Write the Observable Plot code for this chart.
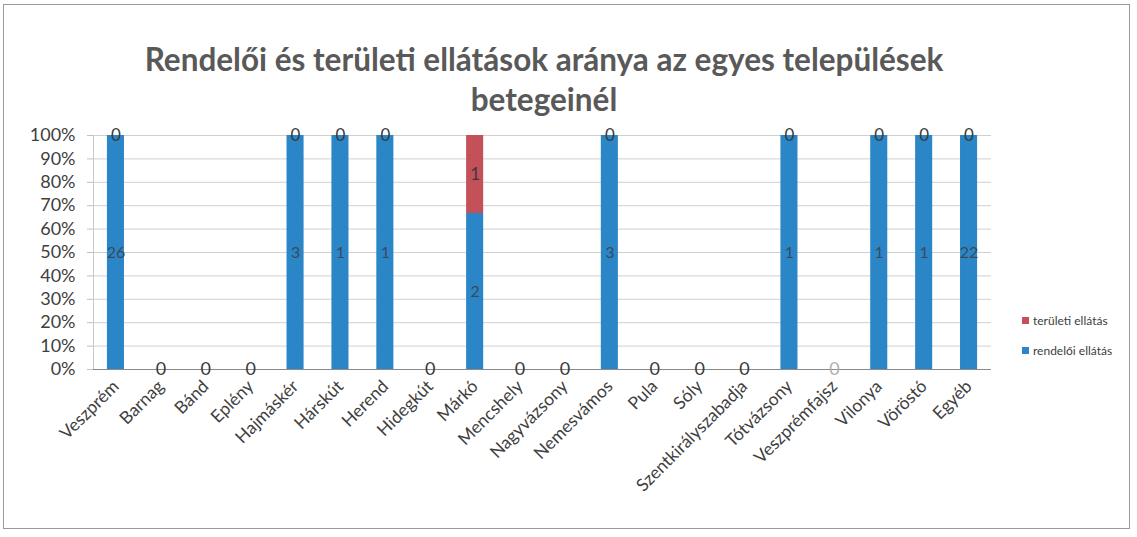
<!DOCTYPE html>
<html>
<head>
<meta charset="utf-8">
<script src="https://cdn.jsdelivr.net/npm/d3@7"></script>
<script src="https://cdn.jsdelivr.net/npm/@observablehq/plot@0.6"></script>
<style>
  body { margin: 0; background: #fff; font-family: Lato, "Open Sans", sans-serif; }
  #wrap { position: relative; width: 1127px; height: 525px; margin: 4px 0 0 3px; border: 1px solid #9a9a9a; box-sizing: border-box; overflow: hidden; }
  #title { position: absolute; left: 0; top: 34px; width: 1080px; text-align: center; font-weight: bold; font-size: 31.5px; line-height: 40px; color: #595959; }
  #chart { position: absolute; left: -3px; top: 114px; width: 1137px; }
  #chart svg { max-width: none; }
  #legend { position: absolute; left: 1018px; top: 300px; font-size: 12px; color: #404040; }
  #legend div { display: flex; align-items: center; height: 30px; }
  #legend span.sw { display: inline-block; width: 7px; height: 7px; margin-right: 4px; }
</style>
</head>
<body>
<div id="wrap">
  <div id="title">Rendelői és területi ellátások aránya az egyes települések<br>betegeinél</div>
  <div id="chart"></div>
  <div id="legend"></div>
</div>
<script>
const telepulesek = ["Veszprém","Barnag","Bánd","Eplény","Hajmáskér","Hárskút","Herend","Hidegkút","Márkó","Mencshely","Nagyvázsony","Nemesvámos","Pula","Sóly","Szentkirályszabadja","Tótvázsony","Veszprémfajsz","Vilonya","Vöröstó","Egyéb"];
const rendeloi = [26,0,0,0,3,1,1,0,2,0,0,3,0,0,0,1,0,1,1,22];
const teruleti = [0,0,0,0,0,0,0,0,1,0,0,0,0,0,0,0,0,0,0,0];
const sorozatok = ["területi ellátás","rendelői ellátás"];
const szinek = ["#c4505a","#2b86c8"];
const yTicks = [0,0.1,0.2,0.3,0.4,0.5,0.6,0.7,0.8,0.9,1];

const rows = telepulesek.map((name, i) => {
  const r = rendeloi[i], t = teruleti[i], tot = r + t;
  const fr = tot > 0 ? r / tot : 0;
  return { name, r, t, tot, fr };
});
const nonzero = rows.filter(d => d.tot > 0);
const zero = rows.filter(d => d.tot === 0);

const chart = Plot.plot({
  width: 1137,
  height: 410,
  marginLeft: 92,
  marginRight: 147,
  marginTop: 16,
  marginBottom: 160,
  style: { fontFamily: "Lato, 'Open Sans', sans-serif", color: "#404040", background: "transparent" },
  x: { domain: telepulesek, paddingInner: 0.62, paddingOuter: 0.31, round: false, label: null },
  y: { domain: [0, 1], label: null },
  marks: [
    Plot.ruleY(yTicks, { stroke: "#d0d0d0", strokeWidth: 1 }),
    Plot.frame({ anchor: "left", stroke: "#c8c8c8" }),
    Plot.barY(nonzero, { x: "name", y1: 0, y2: "fr", fill: szinek[1] }),
    Plot.barY(nonzero.filter(d => d.t > 0), { x: "name", y1: "fr", y2: 1, fill: szinek[0] }),
    Plot.ruleY([0], { stroke: "#8a8a8a", strokeWidth: 1 }),
    Plot.text(nonzero, { x: "name", y: d => d.fr / 2, text: d => String(d.r), fill: "#3a4a5a", fontSize: 16 }),
    Plot.text(nonzero, { x: "name", y: d => d.t > 0 ? (1 + d.fr) / 2 : 1, text: d => String(d.t), fill: "#3a3a3a", fontSize: 17 }),
    Plot.text(zero, { x: "name", y: 0, text: d => "0", fill: d => d.name === "Veszprémfajsz" ? "#b0b0b0" : "#3a3a3a", fontSize: 18 }),
    Plot.axisY(yTicks, { tickFormat: d => Math.round(d * 100) + "%", fontSize: 18, tickSize: 6, tickPadding: 12, stroke: "#c0c0c0", fill: "#404040" }),
    Plot.axisX({ tickRotate: -45, fontSize: 17.5, tickSize: 0, tickPadding: 14, fill: "#404040" })
  ]
});
document.getElementById("chart").appendChild(chart);

const legend = document.getElementById("legend");
sorozatok.forEach((s, i) => {
  const row = document.createElement("div");
  row.innerHTML = `<span class="sw" style="background:${szinek[i]}"></span>${s}`;
  legend.appendChild(row);
});
</script>
</body>
</html>
